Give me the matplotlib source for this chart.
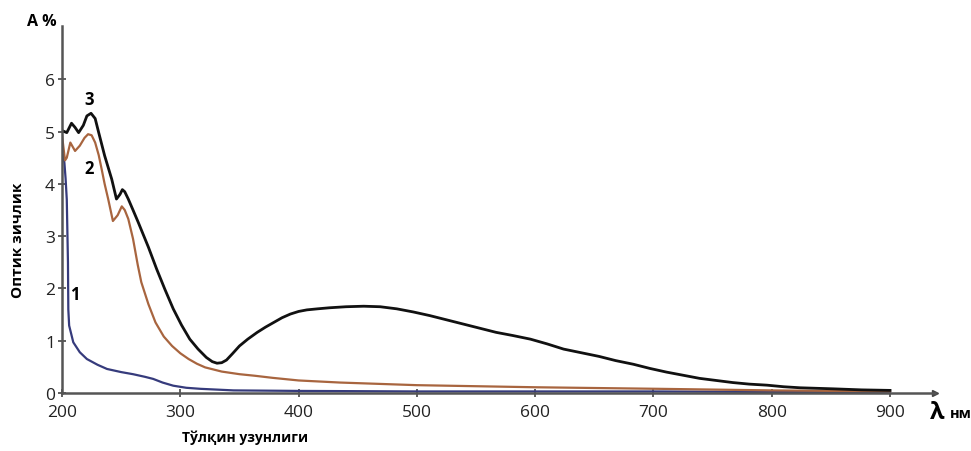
import matplotlib.pyplot as plt

plt.rcParams['font.family'] = ['Open Sans', 'DejaVu Sans']

# curve 1 (blue)
x1 = [201, 202, 203, 204, 204.5, 205, 205.3, 206, 209.5, 215, 221, 230, 238, 250,
      260, 270, 277, 285, 294, 305, 317, 345, 400, 500, 600, 700, 800, 900]
y1 = [4.55, 4.4, 4.1, 3.7, 3.1, 2.5, 1.6, 1.29, 0.97, 0.78, 0.65, 0.54, 0.46, 0.40,
      0.36, 0.31, 0.27, 0.20, 0.14, 0.10, 0.08, 0.05, 0.04, 0.03, 0.03, 0.03, 0.02, 0.02]

# curve 2 (brown)
x2 = [200, 202.5, 204, 207, 211, 215, 219, 222, 225, 228, 231, 233.5, 236, 239, 243,
      247, 250.5, 253, 256, 260, 264, 267, 273, 279, 286, 293, 300, 307, 314, 321,
      335, 350, 363, 378, 400, 435, 500, 600, 705, 800, 900]
y2 = [4.92, 4.45, 4.5, 4.79, 4.63, 4.73, 4.88, 4.95, 4.93, 4.79, 4.55, 4.28, 4.0, 3.71,
      3.29, 3.4, 3.57, 3.5, 3.33, 2.95, 2.45, 2.12, 1.7, 1.35, 1.08, 0.90, 0.76, 0.65,
      0.56, 0.49, 0.41, 0.36, 0.33, 0.29, 0.24, 0.20, 0.15, 0.11, 0.08, 0.05, 0.03]

# curve 3 (black)
x3 = [200, 204, 208, 211, 214, 218, 221, 224.5, 228, 231, 236, 242, 246, 249, 251,
      253, 256, 260, 264.5, 273, 280, 287, 294, 301, 308, 315, 322, 327, 331, 335,
      339, 344, 350, 357, 365, 372, 379, 386, 393, 400, 407, 416, 426, 440, 455, 469,
      483, 497, 511, 525, 539, 553, 567, 581, 596, 610, 624, 639, 654, 668, 683, 697,
      711, 725, 739, 753, 767, 781, 796, 810, 824, 838, 852, 876, 900]
y3 = [5.02, 4.98, 5.16, 5.08, 4.98, 5.12, 5.3, 5.35, 5.25, 4.98, 4.54, 4.09, 3.71,
      3.8, 3.89, 3.85, 3.71, 3.5, 3.26, 2.79, 2.37, 1.98, 1.61, 1.30, 1.03, 0.84,
      0.68, 0.60, 0.57, 0.58, 0.63, 0.75, 0.90, 1.03, 1.16, 1.26, 1.35, 1.44, 1.51,
      1.56, 1.59, 1.61, 1.63, 1.65, 1.66, 1.65, 1.61, 1.55, 1.48, 1.40, 1.32, 1.24,
      1.16, 1.10, 1.03, 0.94, 0.84, 0.77, 0.70, 0.62, 0.55, 0.47, 0.40, 0.34, 0.28,
      0.24, 0.20, 0.17, 0.15, 0.12, 0.10, 0.09, 0.08, 0.06, 0.05]

xticks = [200, 300, 400, 500, 600, 700, 800, 900]
yticks = [0, 1, 2, 3, 4, 5, 6]

fig = plt.figure(figsize=(9.71, 4.52), dpi=100)
ax = fig.add_axes([0.0639, 0.1283, 0.899, 0.812])

ax.plot(x1, y1, color='#363b7c', lw=1.6)
ax.plot(x2, y2, color='#a8653f', lw=1.6)
ax.plot(x3, y3, color='#111111', lw=2.0)

ax.set_xlim(200, 938)
ax.set_ylim(0, 7.02)
ax.set_xticks(xticks)
ax.set_yticks(yticks)
ax.tick_params(direction='inout', length=6, width=1.2, colors='#444444',
               labelcolor='#222222', labelsize=12.5)
ax.tick_params(axis='x', pad=5)
ax.tick_params(axis='y', pad=2)

for s in ['top', 'right']:
    ax.spines[s].set_visible(False)
for s in ['left', 'bottom']:
    ax.spines[s].set_color('#555555')
    ax.spines[s].set_linewidth(1.8)

# axis arrows
ax.plot(1, 0, '>', color='#444444', ms=5, transform=ax.get_yaxis_transform(), clip_on=False)
ax.plot(0, 1, '^', color='#444444', ms=5, transform=ax.get_xaxis_transform(), clip_on=False)

# curve numbers
ax.annotate('3', xy=(223, 5.63), fontsize=12, fontweight='bold', ha='center', va='center')
ax.annotate('2', xy=(223, 4.3), fontsize=12, fontweight='bold', ha='center', va='center')
ax.annotate('1', xy=(211, 1.9), fontsize=12, fontweight='bold', ha='center', va='center')

fig.text(42 / 971, 1 - 22 / 452, 'А %', fontsize=11.5, fontweight='bold', ha='center', va='center')
fig.text(18 / 971, 1 - 240 / 452, 'Оптик зичлик', fontsize=11, fontweight='bold',
         rotation=90, ha='center', va='center')
fig.text(245 / 971, 1 - 438 / 452, 'Тўлқин узунлиги', fontsize=10, fontweight='bold',
         ha='center', va='center')
fig.text(930 / 971, 1 - 413 / 452, 'λ', fontsize=17, fontweight='bold', ha='left', va='center')
fig.text(950 / 971, 1 - 414 / 452, 'нм', fontsize=10.5, fontweight='bold', ha='left', va='center')

fig.savefig('out.png', dpi=100)
